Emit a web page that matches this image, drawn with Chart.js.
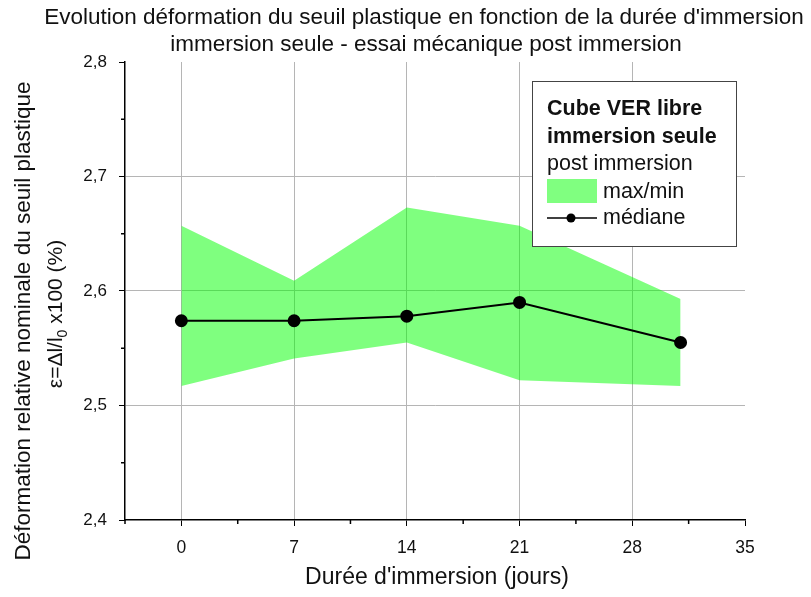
<!DOCTYPE html>
<html><head><meta charset="utf-8">
<script src="https://cdn.jsdelivr.net/npm/chart.js@4/dist/chart.umd.min.js"></script>
<style>html,body{margin:0;padding:0;background:#fff}#wrap{width:811px;height:597px}</style>
</head><body><div id="wrap"><canvas id="c" width="811" height="597"></canvas></div>
<script>
const days = [0, 7, 14, 21, 31];
const maxVals = [2.657, 2.609, 2.673, 2.657, 2.593];
const minVals = [2.517, 2.541, 2.555, 2.522, 2.517];
const medVals = [2.574, 2.574, 2.578, 2.590, 2.555];
const xTicks = [0, 7, 14, 21, 28, 35];
const yTicks = [2.4, 2.5, 2.6, 2.7, 2.8];
const titleLines = ["Evolution déformation du seuil plastique en fonction de la durée d'immersion", "immersion seule - essai mécanique post immersion"];
const xTitle = "Durée d'immersion (jours)";
const yTitle1 = "Déformation relative nominale du seuil plastique";
const legendLines = ["Cube VER libre", "immersion seule", "post immersion", "max/min", "médiane"];

const FONT = '"Liberation Sans", Arial, sans-serif';
const pts = (vals) => days.map((d, i) => ({x: d, y: vals[i]}));

const overlay = {
  id: 'overlay',
  afterDraw(chart) {
    const ctx = chart.ctx;
    const xs = chart.scales.x, ys = chart.scales.y;
    ctx.save();
    ctx.fillStyle = '#111';
    // title
    ctx.font = '22.5px ' + FONT;
    ctx.textAlign = 'center'; ctx.textBaseline = 'middle';
    ctx.fillText(titleLines[0], 424, 18);
    ctx.fillText(titleLines[1], 426, 45);
    // x title
    ctx.font = '23px ' + FONT;
    ctx.fillText(xTitle, 437, 578);
    // y titles
    ctx.save();
    ctx.font = '22.5px ' + FONT;
    ctx.translate(24, 321); ctx.rotate(-Math.PI/2);
    ctx.fillText(yTitle1, 0, 0);
    ctx.restore();
    ctx.save();
    ctx.translate(56, 314); ctx.rotate(-Math.PI/2);
    ctx.textAlign = 'left';
    const big = '21px ' + FONT, small = '14px ' + FONT;
    const p1 = 'ε=Δl/l', p2 = '0', p3 = ' x100 (%)';
    ctx.font = big;
    const w1 = ctx.measureText(p1).width;
    const w3 = ctx.measureText(p3).width;
    ctx.font = small;
    const w2 = ctx.measureText(p2).width;
    let x0 = -(w1 + w2 + w3) / 2;
    ctx.font = big;
    ctx.fillText(p1, x0, 0);
    ctx.font = small;
    ctx.fillText(p2, x0 + w1, 7);
    ctx.font = big;
    ctx.fillText(p3, x0 + w1 + w2, 0);
    ctx.restore();
    // minor ticks
    ctx.strokeStyle = '#000'; ctx.lineWidth = 1.5;
    ctx.beginPath();
    for (let i = 0; i < xTicks.length; i++) {
      const v = xTicks[i] - 3.5;
      const px = xs.getPixelForValue(v);
      ctx.moveTo(px, ys.bottom); ctx.lineTo(px, ys.bottom + 4);
    }
    for (let i = 0; i < yTicks.length - 1; i++) {
      const v = yTicks[i] + 0.05;
      const py = ys.getPixelForValue(v);
      ctx.moveTo(xs.left, py); ctx.lineTo(xs.left - 4, py);
    }
    ctx.stroke();
    // legend
    ctx.fillStyle = '#fff';
    ctx.fillRect(532, 81, 204, 165);
    ctx.strokeStyle = '#444'; ctx.lineWidth = 1;
    ctx.strokeRect(532.5, 81.5, 204, 165);
    ctx.fillStyle = '#111';
    ctx.textAlign = 'left'; ctx.textBaseline = 'middle';
    ctx.font = 'bold 21.5px ' + FONT;
    ctx.fillText(legendLines[0], 547, 109);
    ctx.fillText(legendLines[1], 547, 137);
    ctx.font = '21.5px ' + FONT;
    ctx.fillText(legendLines[2], 547, 164);
    ctx.fillStyle = 'rgb(128,255,128)';
    ctx.fillRect(547, 179, 50, 24);
    ctx.fillStyle = '#111';
    ctx.fillText(legendLines[3], 603, 192);
    ctx.fillText(legendLines[4], 603, 218);
    ctx.strokeStyle = '#000'; ctx.lineWidth = 1.5;
    ctx.beginPath(); ctx.moveTo(547, 218); ctx.lineTo(597, 218); ctx.stroke();
    ctx.beginPath(); ctx.arc(571, 218, 4.5, 0, Math.PI*2); ctx.fillStyle = '#000'; ctx.fill();
    ctx.restore();
  }
};

new Chart(document.getElementById('c'), {
  type: 'scatter',
  data: {
    datasets: [
      {label: 'max', data: pts(maxVals), showLine: true, borderWidth: 0, borderColor: 'rgba(0,0,0,0)', pointRadius: 0, fill: '+1', backgroundColor: 'rgba(0,255,0,0.5)', tension: 0},
      {label: 'min', data: pts(minVals), showLine: true, borderWidth: 0, borderColor: 'rgba(0,0,0,0)', pointRadius: 0, fill: false, backgroundColor: 'rgba(0,255,0,0.5)', tension: 0},
      {label: 'médiane', data: pts(medVals), showLine: true, borderWidth: 2, borderColor: '#000', pointRadius: 5.5, pointBackgroundColor: '#000', pointBorderColor: '#000', fill: false, tension: 0}
    ]
  },
  options: {
    responsive: false, animation: false,
    layout: {padding: {left: 0, top: 62, right: 66, bottom: 0}},
    plugins: {legend: {display: false}, title: {display: false}, tooltip: {enabled: false}, filler: {drawTime: 'beforeDatasetsDraw'}},
    scales: {
      x: {
        type: 'linear', min: -3.5, max: 35,
        afterBuildTicks: (s) => { s.ticks = xTicks.map(v => ({value: v})); },
        afterFit: (s) => { s.height = 77; },
        grid: {color: (c) => c.tick && c.tick.value === 35 ? 'rgba(0,0,0,0)' : '#b5b5b5', lineWidth: 1, tickColor: '#000', tickLength: 6, drawTicks: true},
        border: {color: '#000', width: 1.5},
        ticks: {color: '#111', font: {family: FONT, size: 17.5}, padding: 12, maxRotation: 0, callback: (v) => String(v)}
      },
      y: {
        type: 'linear', min: 2.4, max: 2.8,
        afterBuildTicks: (s) => { s.ticks = yTicks.map(v => ({value: v})); },
        afterFit: (s) => { s.width = 125; },
        grid: {color: (c) => (c.tick && (Math.abs(c.tick.value - 2.8) < 1e-6 || Math.abs(c.tick.value - 2.4) < 1e-6)) ? 'rgba(0,0,0,0)' : '#b5b5b5', lineWidth: 1, tickColor: '#000', tickLength: 6},
        border: {color: '#000', width: 1.5},
        ticks: {color: '#111', font: {family: FONT, size: 17}, padding: 12, callback: (v) => Number(v).toFixed(1).replace('.', ',')}
      }
    }
  },
  plugins: [overlay]
});
</script></body></html>
